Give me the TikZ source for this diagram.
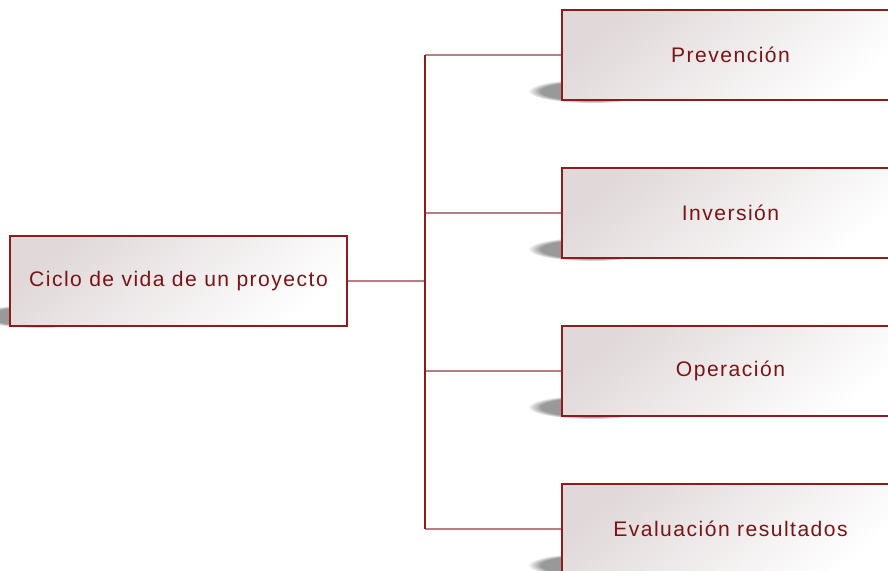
\documentclass[tikz,border=0pt]{standalone}
\usepackage{fontspec}
\setmainfont{Liberation Sans}
\usetikzlibrary{positioning,fadings}
\definecolor{boxred}{RGB}{140,28,30}
\definecolor{textred}{RGB}{122,20,22}
\definecolor{branchrose}{RGB}{180,128,134}
\definecolor{boxgray}{RGB}{224,216,217}

\begin{document}
\begin{tikzpicture}[x=0.025cm, y=-0.025cm,
  box/.style={draw=boxred, line width=0.9pt, top color=boxgray, bottom color=white,
    shading angle=40, minimum width=8.425cm, minimum height=2.25cm,
    text=textred, font=\fontsize{15}{18}\selectfont\addfontfeatures{LetterSpace=7}},
  shade/.style={fill=black!40, path fading=circle with fuzzy edge 20 percent},
  branch/.style={draw=branchrose, line width=1.2pt},
  trunk/.style={draw=boxred, line width=0.9pt}]
\clip (0,0) rectangle (888,571);
% shadows
\foreach \y in {55,213,371,529}
  \fill[shade] (592,\y+36) ellipse (64 and 12);
\fill[shade] (40,316) ellipse (64 and 12);
% boxes
\node[box] (ciclo) at (178.5,281) {Ciclo de vida de un proyecto};
\node[box] (prev) at (730.5,55) {Prevención};
\node[box] (inv) at (730.5,213) {Inversión};
\node[box] (oper) at (730.5,371) {Operación};
\node[box] (eval) at (730.5,529) {Evaluación resultados};
% connectors
\coordinate (top) at (425,55);
\coordinate (bot) at (425,529);
\coordinate (mid) at (425,281);
\draw[branch] (ciclo.east) -- (mid);
\draw[branch] (top) -- (prev.west);
\draw[branch] (425,213) -- (inv.west);
\draw[branch] (425,371) -- (oper.west);
\draw[branch] (bot) -- (eval.west);
\draw[trunk] (top) -- (bot);
\end{tikzpicture}
\end{document}
